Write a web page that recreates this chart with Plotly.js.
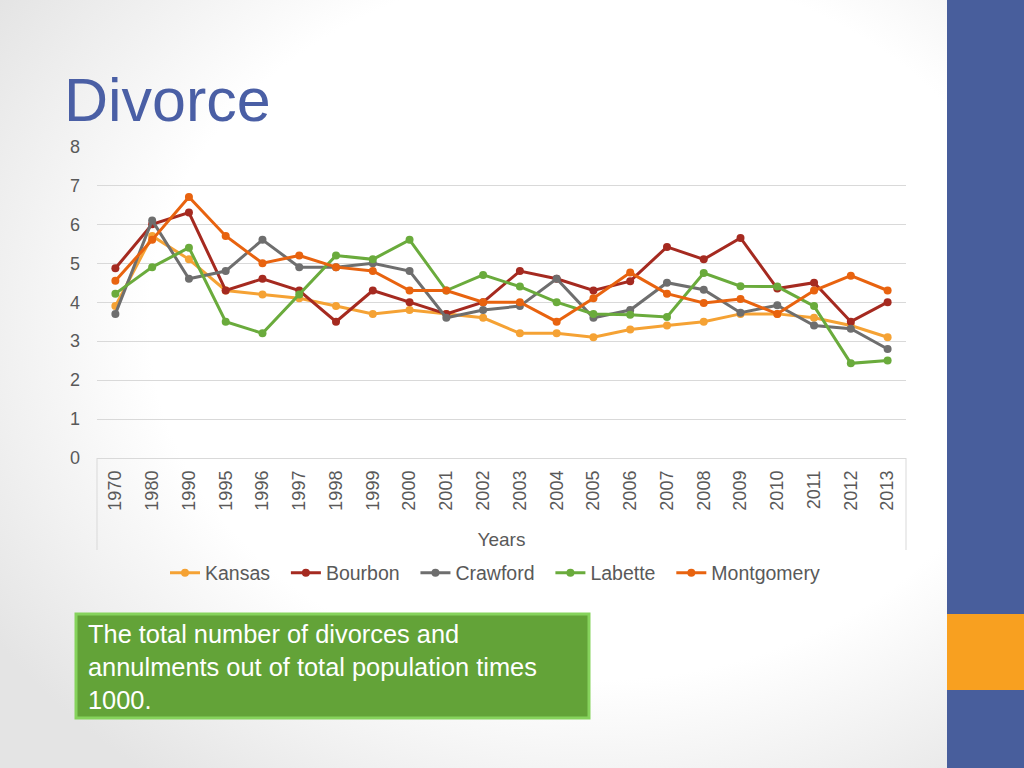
<!DOCTYPE html>
<html>
<head>
<meta charset="utf-8">
<script src="https://cdn.plot.ly/plotly-3.0.1.min.js"></script>
<style>
  html, body { margin: 0; padding: 0; width: 1024px; height: 768px; overflow: hidden; }
  body { background: radial-gradient(ellipse 70% 75% at 58% 42%, #ffffff 62%, #e4e4e4 100%); }
  #chart { width: 1024px; height: 768px; }
</style>
</head>
<body>
<div id="chart"></div>
<script>
const years = ["1970","1980","1990","1995","1996","1997","1998","1999","2000","2001","2002","2003","2004","2005","2006","2007","2008","2009","2010","2011","2012","2013"];
const kansas     = [3.9, 5.7, 5.1, 4.3, 4.2, 4.1, 3.9, 3.7, 3.8, 3.7, 3.6, 3.2, 3.2, 3.1, 3.3, 3.4, 3.5, 3.7, 3.7, 3.6, 3.4, 3.1];
const bourbon    = [4.87, 6.0, 6.3, 4.3, 4.6, 4.3, 3.5, 4.3, 4.0, 3.7, 4.0, 4.8, 4.6, 4.3, 4.54, 5.42, 5.1, 5.65, 4.35, 4.5, 3.5, 4.0];
const crawford   = [3.7, 6.1, 4.6, 4.8, 5.6, 4.9, 4.9, 5.0, 4.8, 3.6, 3.8, 3.9, 4.6, 3.6, 3.8, 4.5, 4.32, 3.73, 3.92, 3.4, 3.32, 2.8];
const labette    = [4.22, 4.9, 5.4, 3.5, 3.2, 4.2, 5.2, 5.1, 5.6, 4.3, 4.7, 4.4, 4.0, 3.7, 3.68, 3.62, 4.75, 4.41, 4.4, 3.9, 2.43, 2.5];
const montgomery = [4.55, 5.6, 6.7, 5.7, 5.0, 5.2, 4.9, 4.8, 4.3, 4.3, 4.0, 4.0, 3.5, 4.1, 4.76, 4.22, 3.98, 4.08, 3.7, 4.3, 4.68, 4.3];
const seriesNames = ["Kansas", "Bourbon", "Crawford", "Labette", "Montgomery"];
const yTicks = [0, 1, 2, 3, 4, 5, 6, 7, 8];

const seriesData = [kansas, bourbon, crawford, labette, montgomery];
const colors = ["#f5a234", "#a52a20", "#6e6e6e", "#6aab3c", "#e8630f"];

const W = 1024, H = 768;
const px = v => v / W;
const py = v => (H - v) / H;
const pad = "\u00a0\u00a0";

const traces = seriesData.map((vals, i) => ({
  type: "scatter",
  mode: "lines+markers",
  name: seriesNames[i] + (i < seriesNames.length - 1 ? pad : ""),
  x: years,
  y: vals,
  line: { color: colors[i], width: 3 },
  marker: { color: colors[i], size: 8 },
  hoverinfo: "skip"
}));

const layout = {
  width: W, height: H,
  margin: { l: 0, r: 0, t: 0, b: 0 },
  paper_bgcolor: "rgba(0,0,0,0)",
  plot_bgcolor: "rgba(0,0,0,0)",
  font: { family: "Liberation Sans, Arial, sans-serif", color: "#595959" },
  showlegend: true,
  legend: {
    orientation: "h",
    x: px(165), xanchor: "left",
    y: py(573), yanchor: "middle",
    font: { size: 19.5, color: "#595959" },
    itemwidth: 30,
    bgcolor: "rgba(0,0,0,0)"
  },
  xaxis: {
    type: "category",
    domain: [px(97), px(906)],
    range: [-0.5, years.length - 0.5],
    anchor: "y",
    tickangle: -90,
    tickfont: { size: 18, color: "#595959" },
    ticks: "",
    ticklabelstandoff: 8,
    showgrid: false,
    showline: false,
    zeroline: false,
    automargin: false,
    fixedrange: true,
    title: { text: "Years", font: { size: 19, color: "#595959" }, standoff: 23 }
  },
  yaxis: {
    domain: [py(458), py(146)],
    range: [0, 8.01],
    tickvals: yTicks,
    ticktext: yTicks.map(String),
    tickfont: { size: 18, color: "#595959" },
    ticks: "",
    ticklabelstandoff: 16,
    showgrid: true,
    gridcolor: "#d9d9d9",
    gridwidth: 1,
    zeroline: true,
    zerolinecolor: "#d9d9d9",
    zerolinewidth: 1,
    showline: false,
    automargin: false,
    fixedrange: true
  },
  shapes: [
    { type: "line", xref: "paper", yref: "paper", x0: px(97), x1: px(97), y0: py(458), y1: py(550), line: { color: "#d9d9d9", width: 1 } },
    { type: "line", xref: "paper", yref: "paper", x0: px(906), x1: px(906), y0: py(458), y1: py(550), line: { color: "#d9d9d9", width: 1 } },
    { type: "rect", xref: "paper", yref: "paper", x0: px(947), x1: 1, y0: 0, y1: 1, fillcolor: "#485e9c", line: { width: 0 }, layer: "below" },
    { type: "rect", xref: "paper", yref: "paper", x0: px(947), x1: 1, y0: py(690), y1: py(614), fillcolor: "#f8a020", line: { width: 0 }, layer: "below" },
    { type: "rect", xref: "paper", yref: "paper", x0: px(76), x1: px(589), y0: py(718), y1: py(614), fillcolor: "#63a338", line: { color: "#86d35c", width: 3 }, layer: "below" }
  ],
  annotations: [
    { text: "Divorce", xref: "paper", yref: "paper", x: px(62), y: py(100), xanchor: "left", yanchor: "middle", showarrow: false, font: { size: 61, color: "#4a5fa5", family: "Liberation Sans, Arial, sans-serif" } },
    { text: "The total number of divorces and<br>annulments out of total population times<br>1000.", xref: "paper", yref: "paper", x: px(86), y: py(667), xanchor: "left", yanchor: "middle", align: "left", showarrow: false, font: { size: 25.4, color: "#ffffff", family: "Liberation Sans, Arial, sans-serif" } }
  ]
};

Plotly.newPlot("chart", traces, layout, { staticPlot: true, displayModeBar: false });
</script>
</body>
</html>
